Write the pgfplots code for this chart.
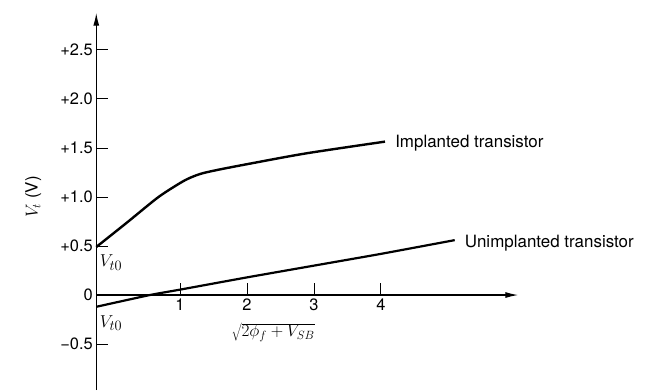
\documentclass[border=0pt]{standalone}
\usepackage{pgfplots}
\pgfplotsset{compat=1.18}
\usepackage{fontspec}
\setmainfont{TeX Gyre Heros}
\usetikzlibrary{arrows.meta}
\begin{document}
\begin{tikzpicture}
\begin{axis}[
  scale only axis,
  width=422.1bp, height=377.3bp,
  xmin=-0.25, xmax=6.05,
  ymin=-0.969, ymax=2.88,
  axis x line=middle,
  axis y line=left,
  axis line style={line width=1.3bp, -{Latex[length=13bp,width=6bp]}},
  tick align=inside,
  major tick length=12bp,
  tick style={line width=1bp, black},
  xtick={1,2,3,4},
  xticklabels={1,2,3,4},
  ytick={-0.5,0,0.5,1,1.5,2,2.5},
  yticklabels={\textminus0.5,0,+0.5,+1.0,+1.5,+2.0,+2.5},
  ticklabel style={font=\fontsize{16.5}{20}\selectfont},
  clip=false,
]
\addplot[black, line width=2.4bp, smooth, tension=0.5] coordinates {
  (-0.25,0.49) (0.20,0.735) (0.65,0.985) (0.90,1.10) (1.10,1.18)
  (1.30,1.235) (1.55,1.275) (2.04,1.34) (2.89,1.446) (4.06,1.565)
};
\addplot[black, line width=2.2bp, smooth, tension=0.3] coordinates {
  (-0.25,-0.12) (0.55,0) (1,0.055) (2,0.18) (3,0.30) (4,0.42) (5.1,0.56)
};
\node[anchor=west, font=\fontsize{17}{20}\selectfont, inner sep=0pt] at (axis cs:4.21,1.55) {Implanted transistor};
\node[anchor=west, font=\fontsize{17}{20}\selectfont, inner sep=0pt] at (axis cs:5.25,0.53) {Unimplanted transistor};
\node[anchor=west, inner sep=0pt, font=\fontsize{19}{22}\selectfont] at (axis cs:-0.20,0.33) {$V_{t0}$};
\node[anchor=west, inner sep=0pt, font=\fontsize{19}{22}\selectfont] at (axis cs:-0.20,-0.29) {$V_{t0}$};
\node[rotate=90, font=\fontsize{17}{20}\selectfont] at (axis cs:-1.19,1.0) {$V_t$ (V)};
\node[font=\fontsize{17}{20}\selectfont] at (axis cs:2.39,-0.38) {$\sqrt{2\phi_f+V_{SB}}$};
\path (axis cs:-1.687,3.01) rectangle (axis cs:8.09,-0.969);
\end{axis}
\end{tikzpicture}
\end{document}
